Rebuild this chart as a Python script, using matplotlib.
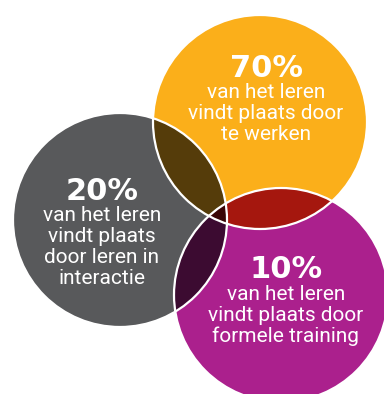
import numpy as np
import matplotlib
matplotlib.use("Agg")
import matplotlib.pyplot as plt
from matplotlib.patches import Circle, Polygon

# ---- data ----
percentages = ["70%", "20%", "10%"]
descriptions = [
    ["van het leren", "vindt plaats door", "te werken"],
    ["van het leren", "vindt plaats", "door leren in", "interactie"],
    ["van het leren", "vindt plaats door", "formele training"],
]
circle_colors = ["#FBAF1A", "#58595B", "#AB208D"]
pair_colors = {(0, 1): "#553C0A", (0, 2): "#A5170E", (1, 2): "#3C0B31"}
triple_color = "#3A0606"

# ---- layout ----
centers = [(260, 122), (120, 220), (281, 295)]
radii = [107, 107, 107]
label_x = [266, 102, 286]
pct_baseline = [77, 200, 278]
first_baseline = [98, 221, 300]
line_step = 21

fig = plt.figure(figsize=(3.84, 3.94), dpi=100)
ax = fig.add_axes([0, 0, 1, 1])
ax.set_xlim(0, 384)
ax.set_ylim(394, 0)
ax.axis("off")


def lens_points(i, j, n=200):
    c1 = np.array(centers[i], float)
    c2 = np.array(centers[j], float)
    r1, r2 = radii[i], radii[j]
    d = np.linalg.norm(c2 - c1)
    a1 = np.arctan2(*(c2 - c1)[::-1])
    a2 = np.arctan2(*(c1 - c2)[::-1])
    h1 = np.arccos((d**2 + r1**2 - r2**2) / (2 * d * r1))
    h2 = np.arccos((d**2 + r2**2 - r1**2) / (2 * d * r2))
    t1 = np.linspace(a1 - h1, a1 + h1, n)
    t2 = np.linspace(a2 - h2, a2 + h2, n)
    p1 = np.column_stack([c1[0] + r1 * np.cos(t1), c1[1] + r1 * np.sin(t1)])
    p2 = np.column_stack([c2[0] + r2 * np.cos(t2), c2[1] + r2 * np.sin(t2)])
    return np.vstack([p1, p2])


for c, r, col in zip(centers, radii, circle_colors):
    ax.add_patch(Circle(c, r, facecolor=col, edgecolor="none", zorder=1))

for (i, j), col in pair_colors.items():
    ax.add_patch(Polygon(lens_points(i, j), closed=True, facecolor=col,
                         edgecolor="none", zorder=2))

clip = Circle(centers[0], radii[0], transform=ax.transData)
tri = Polygon(lens_points(1, 2), closed=True, facecolor=triple_color,
              edgecolor="none", zorder=3)
ax.add_patch(tri)
tri.set_clip_path(clip)

for c, r in zip(centers, radii):
    ax.add_patch(Circle(c, r, facecolor="none", edgecolor="white", lw=1.6,
                        zorder=4))

for k in range(3):
    ax.text(label_x[k], pct_baseline[k], percentages[k], color="white",
            fontsize=22, fontweight="bold", family=["DejaVu Sans"],
            ha="center", va="baseline", zorder=5)
    for m, line in enumerate(descriptions[k]):
        ax.text(label_x[k], first_baseline[k] + m * line_step, line,
                color="white", fontsize=15,
                family=["Roboto", "DejaVu Sans"],
                ha="center", va="baseline", zorder=5)

fig.savefig("out.png", dpi=100, facecolor="white")
